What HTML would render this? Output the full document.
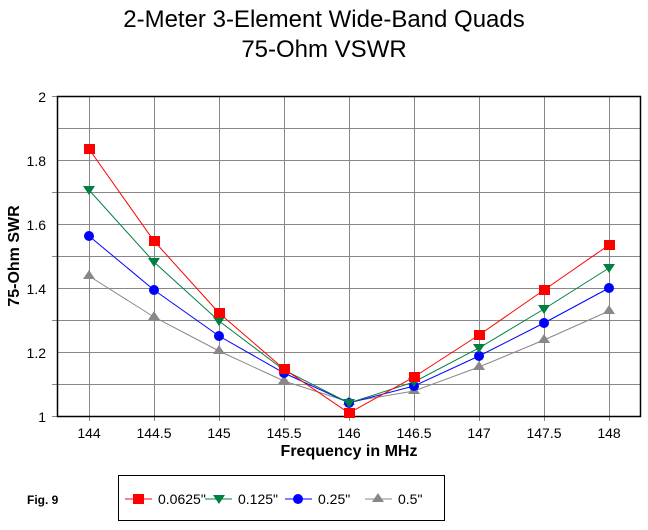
<!DOCTYPE html>
<html><head><style>body{margin:0;background:#fff}</style></head><body>
<svg width="648" height="525" xmlns="http://www.w3.org/2000/svg" font-family="Liberation Sans, Arial, sans-serif">
<rect width="648" height="525" fill="#fff"/>
<text x="324" y="27" font-size="24" text-anchor="middle">2-Meter 3-Element Wide-Band Quads</text>
<text x="324" y="57" font-size="24" text-anchor="middle">75-Ohm VSWR</text>
<g stroke="#888" stroke-width="1">
<line x1="57" x2="640" y1="128.5" y2="128.5"/><line x1="57" x2="640" y1="160.5" y2="160.5"/><line x1="52" x2="640" y1="192.5" y2="192.5"/><line x1="57" x2="640" y1="224.5" y2="224.5"/><line x1="52" x2="640" y1="256.5" y2="256.5"/><line x1="57" x2="640" y1="288.5" y2="288.5"/><line x1="52" x2="640" y1="320.5" y2="320.5"/><line x1="57" x2="640" y1="352.5" y2="352.5"/><line x1="52" x2="640" y1="384.5" y2="384.5"/>
<line x1="52" x2="57" y1="96.5" y2="96.5"/><line x1="52" x2="57" y1="416.5" y2="416.5"/>
<line x1="89.5" x2="89.5" y1="96" y2="421"/><line x1="154.5" x2="154.5" y1="96" y2="421"/><line x1="219.5" x2="219.5" y1="96" y2="421"/><line x1="284.5" x2="284.5" y1="96" y2="421"/><line x1="349.5" x2="349.5" y1="96" y2="421"/><line x1="414.5" x2="414.5" y1="96" y2="421"/><line x1="479.5" x2="479.5" y1="96" y2="421"/><line x1="544.5" x2="544.5" y1="96" y2="421"/><line x1="609.5" x2="609.5" y1="96" y2="421"/>
</g>
<rect x="57.5" y="96.5" width="583" height="320" fill="none" stroke="#000" stroke-width="1.5"/>
<g font-size="14" text-anchor="end">
<text x="46" y="102">2</text><text x="46" y="166">1.8</text><text x="46" y="230">1.6</text><text x="46" y="294">1.4</text><text x="46" y="358">1.2</text><text x="46" y="422">1</text>
</g>
<g font-size="14" text-anchor="middle">
<text x="89" y="438">144</text><text x="154" y="438">144.5</text><text x="219" y="438">145</text><text x="284" y="438">145.5</text><text x="349" y="438">146</text><text x="414" y="438">146.5</text><text x="479" y="438">147</text><text x="544" y="438">147.5</text><text x="609" y="438">148</text>
</g>
<text x="349" y="456" font-size="16" font-weight="bold" text-anchor="middle">Frequency in MHz</text>
<text transform="translate(19,256) rotate(-90)" font-size="16" font-weight="bold" text-anchor="middle">75-Ohm SWR</text>
<polyline fill="none" stroke="#888" points="89,276 154,317 219,351 284,381 349,402 414,391 479,367 544,340 609,311"/>
<polyline fill="none" stroke="#00f" points="89,236 154,290 219,336 284,373 349,403 414,386 479,356 544,323 609,288"/>
<polyline fill="none" stroke="#008040" points="89,190 154,262 219,321 284,370 349,403 414,382 479,348 544,309 609,268"/>
<polyline fill="none" stroke="#f00" points="89,149 154,241 219,313 284,369 349,413 414,377 479,335 544,290 609,245"/>
<g fill="#888"><path d="M89,270 l6,9 h-12z M154,311 l6,9 h-12z M219,345 l6,9 h-12z M284,375 l6,9 h-12z M349,396 l6,9 h-12z M414,385 l6,9 h-12z M479,361 l6,9 h-12z M544,334 l6,9 h-12z M609,305 l6,9 h-12z"/></g>
<g fill="#00f"><circle cx="89" cy="236" r="5"/><circle cx="154" cy="290" r="5"/><circle cx="219" cy="336" r="5"/><circle cx="284" cy="373" r="5"/><circle cx="349" cy="403" r="5"/><circle cx="414" cy="386" r="5"/><circle cx="479" cy="356" r="5"/><circle cx="544" cy="323" r="5"/><circle cx="609" cy="288" r="5"/></g>
<g fill="#008040"><path d="M83,186 h12 l-6,9z M148,258 h12 l-6,9z M213,317 h12 l-6,9z M278,366 h12 l-6,9z M343,399 h12 l-6,9z M408,378 h12 l-6,9z M473,344 h12 l-6,9z M538,305 h12 l-6,9z M603,264 h12 l-6,9z"/></g>
<g fill="#f00"><rect x="84" y="144" width="11" height="10"/><rect x="149" y="236" width="11" height="10"/><rect x="214" y="308" width="11" height="10"/><rect x="279" y="364" width="11" height="10"/><rect x="344" y="408" width="11" height="10"/><rect x="409" y="372" width="11" height="10"/><rect x="474" y="330" width="11" height="10"/><rect x="539" y="285" width="11" height="10"/><rect x="604" y="240" width="11" height="10"/></g>
<text x="27" y="504" font-size="12" font-weight="bold">Fig. 9</text>
<rect x="118.5" y="475.5" width="326" height="45" fill="none" stroke="#000"/>
<line x1="125" x2="152" y1="499" y2="499" stroke="#f00"/><rect x="133" y="494" width="11" height="10" fill="#f00"/>
<text x="158" y="504" font-size="14">0.0625"</text>
<line x1="205" x2="232" y1="499" y2="499" stroke="#008040"/><path d="M213,495 h12 l-6,9z" fill="#008040"/>
<text x="238" y="504" font-size="14">0.125"</text>
<line x1="285" x2="312" y1="499" y2="499" stroke="#00f"/><circle cx="298" cy="499" r="5" fill="#00f"/>
<text x="318" y="504" font-size="14">0.25"</text>
<line x1="365" x2="392" y1="499" y2="499" stroke="#888"/><path d="M378,493 l6,9 h-12z" fill="#888"/>
<text x="398" y="504" font-size="14">0.5"</text>
</svg>
</body></html>
